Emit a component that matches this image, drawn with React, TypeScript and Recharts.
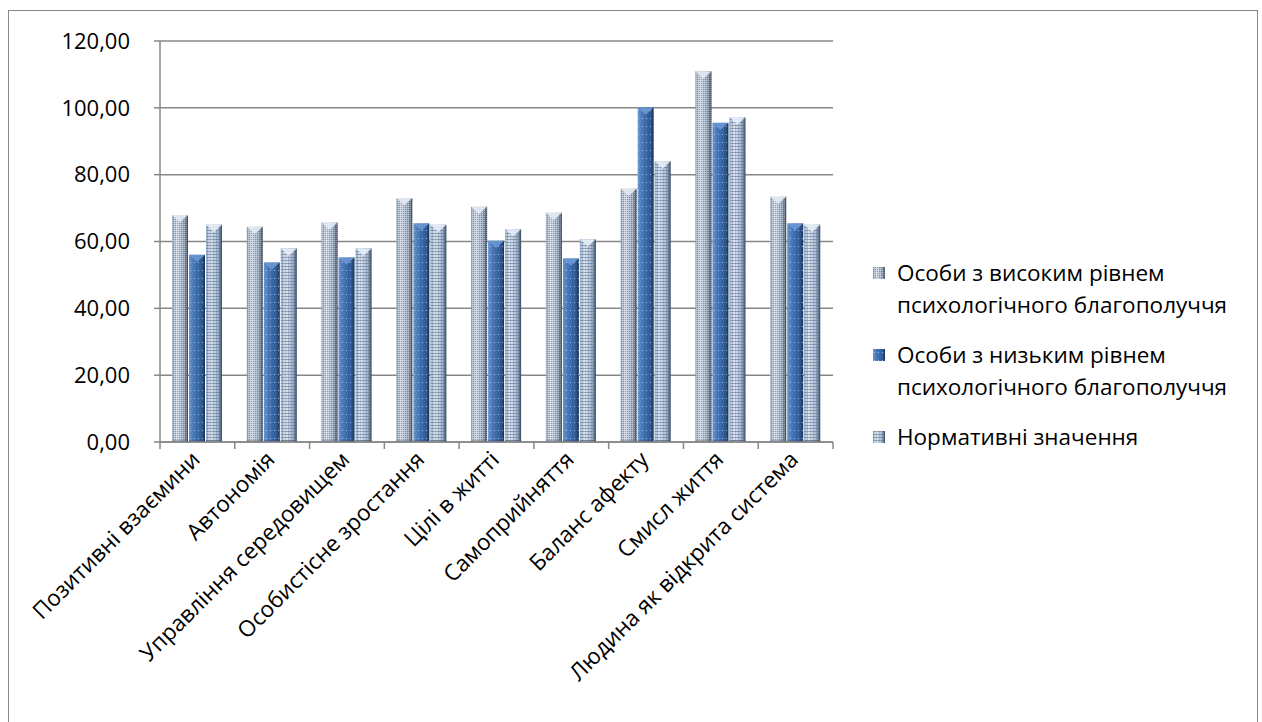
import React from 'react';
import { BarChart, Bar, XAxis, YAxis, CartesianGrid } from 'recharts';

const categories = [
  'Позитивні взаємини',
  'Автономія',
  'Управління середовищем',
  'Особистісне зростання',
  'Цілі в житті',
  'Самоприйняття',
  'Баланс афекту',
  'Смисл життя',
  'Людина як відкрита система',
];

const highValues = [67.9, 64.4, 65.7, 73.0, 70.4, 68.6, 75.8, 110.9, 73.4];
const lowValues = [56.0, 53.7, 55.2, 65.4, 60.2, 54.9, 100.1, 95.5, 65.4];
const normValues = [65.0, 57.9, 57.9, 65.0, 63.7, 60.7, 84.0, 97.2, 65.0];

const yTicks = [0, 20, 40, 60, 80, 100, 120];

const seriesNames = [
  'Особи з високим рівнем психологічного благополуччя',
  'Особи з низьким рівнем психологічного благополуччя',
  'Нормативні значення',
];

const data = categories.map((name, i) => ({
  name,
  high: highValues[i],
  low: lowValues[i],
  norm: normValues[i],
}));

const FONT = '"Open Sans", Lato, sans-serif';
const GRID = '#878787';

const looks: Record<string, { grad: string; pat: string; cap: string }> = {
  high: { grad: 'gHigh', pat: 'pHigh', cap: '#e3eaf3' },
  low: { grad: 'gLow', pat: 'pLow', cap: '#6b98d4' },
  norm: { grad: 'gNorm', pat: 'pNorm', cap: '#e6eef8' },
};

const Defs = () => (
  <defs>
    <linearGradient id="gHigh" x1="0" y1="0" x2="1" y2="0">
      <stop offset="0" stopColor="#94a4bb" />
      <stop offset="0.3" stopColor="#d2dbe7" />
      <stop offset="0.75" stopColor="#97a8c0" />
      <stop offset="0.9" stopColor="#5d6a7e" />
      <stop offset="1" stopColor="#2f3847" />
    </linearGradient>
    <linearGradient id="gLow" x1="0" y1="0" x2="1" y2="0">
      <stop offset="0" stopColor="#6a95cf" />
      <stop offset="0.3" stopColor="#4677b8" />
      <stop offset="0.8" stopColor="#2f5a96" />
      <stop offset="1" stopColor="#18304f" />
    </linearGradient>
    <linearGradient id="gNorm" x1="0" y1="0" x2="1" y2="0">
      <stop offset="0" stopColor="#a3b7d1" />
      <stop offset="0.3" stopColor="#dfe8f3" />
      <stop offset="0.75" stopColor="#a7bad3" />
      <stop offset="0.9" stopColor="#65778f" />
      <stop offset="1" stopColor="#344152" />
    </linearGradient>
    <pattern id="pHigh" width="2" height="2" patternUnits="userSpaceOnUse">
      <rect x="0" y="0" width="1" height="1" fill="#56667e" opacity="0.5" />
      <rect x="1" y="1" width="1" height="1" fill="#ffffff" opacity="0.35" />
    </pattern>
    <pattern id="pLow" width="4" height="8" patternUnits="userSpaceOnUse">
      <rect x="1" y="3" width="1" height="1" fill="#c4d8f2" opacity="0.75" />
    </pattern>
    <pattern id="pNorm" width="3" height="3" patternUnits="userSpaceOnUse">
      <rect x="0" y="0" width="3" height="1" fill="#4f6788" opacity="0.5" />
      <rect x="0" y="0" width="1" height="3" fill="#4f6788" opacity="0.25" />
    </pattern>
  </defs>
);

const Column = (props: any) => {
  const { x, y, width, height, dataKey } = props;
  if (!height || height <= 0) return null;
  const look = looks[dataKey];
  const capH = Math.min(width * 0.45, height);
  return (
    <g>
      <rect x={x} y={y} width={width} height={height} fill={`url(#${look.grad})`} />
      <rect x={x} y={y} width={width} height={height} fill={`url(#${look.pat})`} />
      <polygon
        points={`${x},${y} ${x + width},${y} ${x + width / 2},${y + capH}`}
        fill={look.cap}
        opacity={0.9}
      />
      <rect x={x} y={y + height - 2} width={width} height={2} fill="#3e4a5c" opacity={0.35} />
    </g>
  );
};

const CategoryTick = (props: any) => {
  const { x, y, payload, index } = props;
  const half = payload.offset || 0;
  return (
    <g>
      <line x1={x - half} y1={y - 8} x2={x - half} y2={y - 1} stroke={GRID} strokeWidth={1.5} />
      {index === categories.length - 1 && (
        <line x1={x + half} y1={y - 8} x2={x + half} y2={y - 1} stroke={GRID} strokeWidth={1.5} />
      )}
      <text
        x={x + 4}
        y={y + 11}
        textAnchor="end"
        transform={`rotate(-45 ${x + 4} ${y + 11})`}
        fontFamily={FONT}
        fontSize={22.5}
        fill="#000"
      >
        {payload.value}
      </text>
    </g>
  );
};

const legendIds = ['high', 'low', 'norm'];

const LegendBox = () => (
  <div
    style={{
      position: 'absolute',
      left: 864,
      top: 246,
      width: 384,
      fontFamily: FONT,
      fontSize: 22.5,
      lineHeight: '32px',
      color: '#000',
    }}
  >
    {seriesNames.map((name, i) => (
      <div key={name} style={{ display: 'flex', alignItems: 'flex-start', marginBottom: 18 }}>
        <svg width={12} height={12} style={{ marginTop: 10, marginRight: 12, flexShrink: 0 }}>
          <rect x={0} y={0} width={12} height={12} fill={`url(#${looks[legendIds[i]].grad})`} />
          <rect x={0} y={0} width={12} height={12} fill={`url(#${looks[legendIds[i]].pat})`} />
        </svg>
        <span>{name}</span>
      </div>
    ))}
  </div>
);

export default function App() {
  return (
    <div
      style={{
        position: 'absolute',
        left: 8,
        top: 10,
        width: 1248,
        height: 720,
        border: `1px solid ${GRID}`,
        background: '#fff',
      }}
    >
      <BarChart
        width={1248}
        height={712}
        data={data}
        margin={{ top: 30, right: 424, bottom: 131, left: 0 }}
        barSize={16}
        barGap={1}
        barCategoryGap="16%"
      >
        <Defs />
        <CartesianGrid horizontal vertical={false} stroke={GRID} strokeWidth={1.5} />
        <XAxis
          dataKey="name"
          interval={0}
          height={150}
          tickLine={false}
          axisLine={{ stroke: GRID, strokeWidth: 1.5 }}
          tick={<CategoryTick />}
        />
        <YAxis
          width={151}
          domain={[0, 120]}
          ticks={yTicks}
          interval={0}
          tickSize={6}
          tickMargin={24}
          axisLine={{ stroke: GRID, strokeWidth: 1.5 }}
          tickLine={{ stroke: GRID, strokeWidth: 1.5 }}
          tick={{ fontFamily: FONT, fontSize: 22, fill: '#000' }}
          tickFormatter={(v: number) => v.toFixed(2).replace('.', ',')}
        />
        <Bar dataKey="high" name={seriesNames[0]} shape={<Column />} isAnimationActive={false} />
        <Bar dataKey="low" name={seriesNames[1]} shape={<Column />} isAnimationActive={false} />
        <Bar dataKey="norm" name={seriesNames[2]} shape={<Column />} isAnimationActive={false} />
      </BarChart>
      <LegendBox />
    </div>
  );
}
